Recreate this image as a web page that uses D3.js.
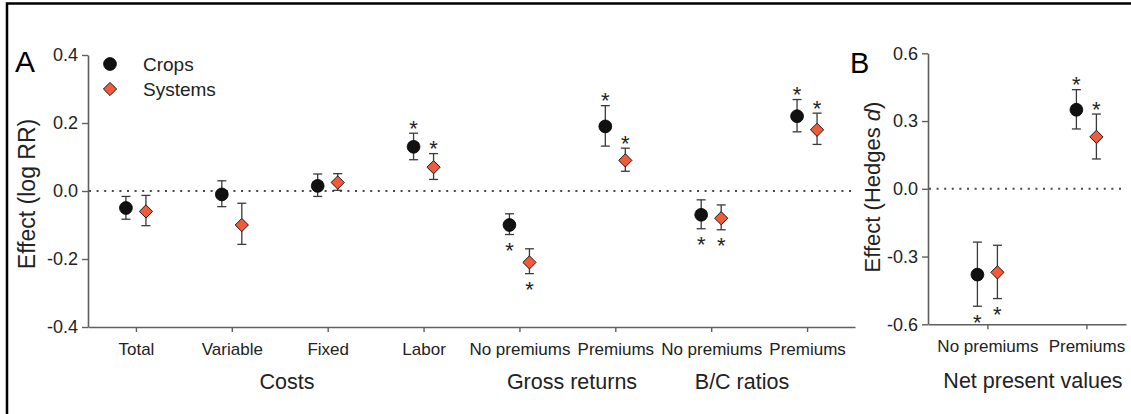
<!DOCTYPE html>
<html>
<head>
<meta charset="utf-8">
<script src="https://cdn.jsdelivr.net/npm/d3@7"></script>
<style>
  html, body { margin: 0; padding: 0; background: #fff; }
  svg { display: block; font-family: "Liberation Sans", Arial, Helvetica, sans-serif; }
</style>
</head>
<body>
<svg id="chart" width="1131" height="414"></svg>
<script>
// ---------- Panel A: effect as log response ratio ----------
const categoriesA = ["Total", "Variable", "Fixed", "Labor", "No premiums", "Premiums", "No premiums", "Premiums"];
const groupsA     = ["Costs", "Costs", "Costs", "Costs", "Gross returns", "Gross returns", "B/C ratios", "B/C ratios"];
const yTicksA     = [-0.4, -0.2, 0.0, 0.2, 0.4];

const cropsMeanA   = [-0.05, -0.01, 0.015, 0.13, -0.10, 0.19, -0.07, 0.22];
const cropsLowA    = [-0.083, -0.046, -0.016, 0.092, -0.128, 0.132, -0.111, 0.174];
const cropsHighA   = [-0.016, 0.030, 0.050, 0.170, -0.067, 0.251, -0.026, 0.269];
const cropsSigA    = [false, false, false, true, true, true, true, true];

const systemsMeanA = [-0.06, -0.10, 0.025, 0.07, -0.21, 0.09, -0.08, 0.18];
const systemsLowA  = [-0.102, -0.157, 0.002, 0.034, -0.243, 0.058, -0.114, 0.137];
const systemsHighA = [-0.013, -0.036, 0.051, 0.110, -0.170, 0.126, -0.041, 0.229];
const systemsSigA  = [false, false, false, true, true, true, true, true];

// ---------- Panel B: effect as Hedges' d ----------
const categoriesB = ["No premiums", "Premiums"];
const groupsB     = ["Net present values", "Net present values"];
const yTicksB     = [-0.6, -0.3, 0.0, 0.3, 0.6];

const cropsMeanB   = [-0.38, 0.35];
const cropsLowB    = [-0.52, 0.265];
const cropsHighB   = [-0.236, 0.439];
const cropsSigB    = [true, true];

const systemsMeanB = [-0.37, 0.23];
const systemsLowB  = [-0.486, 0.132];
const systemsHighB = [-0.25, 0.331];
const systemsSigB  = [true, true];

const seriesNames = ["Crops", "Systems"];

// ---------- styling ----------
const C = {
  crop: "#111111",
  system: "#F15A3A",
  outline: "#1a1a1a",
  axis: "#5f5f5f",
  err: "#3a3a3a",
  text: "#222222",
  zero: "#4a4a4a"
};

const svg = d3.select("#chart");

// outer frame (top and left edges)
svg.append("path")
  .attr("d", "M7,414 L7,3.5 L1131,3.5")
  .attr("fill", "none").attr("stroke", "#000").attr("stroke-width", 2.5);

const diamond = r => `M0,${-r} L${r},0 L0,${r} L${-r},0 Z`;

function drawPanel(cfg) {
  const g = svg.append("g");
  const keys = cfg.categories.map((c, i) => i + "|" + c);

  const x = d3.scalePoint().domain(keys)
    .range([cfg.left, cfg.right]).padding(0.5).align(cfg.align);
  const y = d3.scaleLinear().domain(cfg.yDomain).range([cfg.bottom, cfg.top]);

  // zero reference line
  g.append("line")
    .attr("x1", cfg.left + 1).attr("x2", cfg.right)
    .attr("y1", y(0)).attr("y2", y(0))
    .attr("stroke", C.zero).attr("stroke-width", 2)
    .attr("stroke-dasharray", "2 5.6");

  // y axis
  const yAxis = g.append("g").attr("transform", `translate(${cfg.left},0)`)
    .call(d3.axisLeft(y).tickValues(cfg.yTicks).tickSize(6).tickSizeOuter(0).tickPadding(4)
      .tickFormat(d => d.toFixed(1)));
  // x axis
  const xAxis = g.append("g").attr("transform", `translate(0,${cfg.bottom})`)
    .call(d3.axisBottom(x).tickSize(5).tickSizeOuter(0).tickPadding(11)
      .tickFormat(k => k.split("|")[1]));

  [yAxis, xAxis].forEach(a => {
    a.select(".domain").attr("stroke", C.axis).attr("stroke-width", 1.6);
    a.selectAll(".tick line").attr("stroke", C.axis).attr("stroke-width", 1.4);
    a.selectAll(".tick text").attr("fill", C.text)
      .style("font-family", "'Liberation Sans', Arial, sans-serif");
  });
  yAxis.selectAll(".tick text").style("font-size", "18px");
  xAxis.selectAll(".tick text").style("font-size", "17px");

  // group titles under the category labels
  const groupNames = Array.from(new Set(cfg.groups));
  groupNames.forEach((name, i) => {
    g.append("text")
      .attr("x", cfg.groupX[i]).attr("y", cfg.groupY)
      .attr("text-anchor", "middle").attr("fill", C.text)
      .style("font-size", "21.5px").text(name);
  });

  // y title
  const yt = g.append("text")
    .attr("transform", `translate(${cfg.yTitleX},${cfg.yTitleY}) rotate(-90)`)
    .attr("text-anchor", "middle").attr("fill", C.text)
    .style("font-size", cfg.yTitleSize + "px");
  cfg.yTitle.forEach(part => {
    yt.append("tspan").style("font-style", part.italic ? "italic" : "normal").text(part.t);
  });

  // panel letter
  g.append("text").attr("x", cfg.letterX).attr("y", cfg.letterY)
    .attr("fill", "#000").style("font-size", cfg.letterSize + "px").text(cfg.letter);

  // series
  const series = [
    { name: seriesNames[0], mean: cfg.cropsMean, low: cfg.cropsLow, high: cfg.cropsHigh, sig: cfg.cropsSig, dx: -10 },
    { name: seriesNames[1], mean: cfg.systemsMean, low: cfg.systemsLow, high: cfg.systemsHigh, sig: cfg.systemsSig, dx: 10 }
  ];

  series.forEach((s, si) => {
    const rows = keys.map((k, i) => ({ k, m: s.mean[i], lo: s.low[i], hi: s.high[i], sig: s.sig[i] }));
    const sg = g.append("g");
    const cx = d => x(d.k) + s.dx;

    // error bars
    const eb = sg.selectAll("g.err").data(rows).join("g").attr("class", "err")
      .attr("stroke", C.err).attr("stroke-width", 1.3);
    eb.append("line").attr("x1", cx).attr("x2", cx)
      .attr("y1", d => y(d.lo)).attr("y2", d => y(d.hi));
    eb.append("line").attr("x1", d => cx(d) - 4.5).attr("x2", d => cx(d) + 4.5)
      .attr("y1", d => y(d.lo)).attr("y2", d => y(d.lo));
    eb.append("line").attr("x1", d => cx(d) - 4.5).attr("x2", d => cx(d) + 4.5)
      .attr("y1", d => y(d.hi)).attr("y2", d => y(d.hi));

    // markers
    if (si === 0) {
      sg.selectAll("circle").data(rows).join("circle")
        .attr("cx", cx).attr("cy", d => y(d.m)).attr("r", 6.4)
        .attr("fill", C.crop).attr("stroke", "#000").attr("stroke-width", 0.8);
    } else {
      sg.selectAll("path.mk").data(rows).join("path").attr("class", "mk")
        .attr("transform", d => `translate(${cx(d)},${y(d.m)})`)
        .attr("d", diamond(6.6))
        .attr("fill", C.system).attr("stroke", C.outline).attr("stroke-width", 1);
    }

    // significance stars: above positive effects, below negative ones
    const fs = 22;
    sg.selectAll("text.sig").data(rows.filter(d => d.sig)).join("text").attr("class", "sig")
      .attr("x", cx)
      .attr("y", d => (d.m >= 0 ? y(d.hi) - 10 : y(d.lo) + 11) + 0.575 * fs)
      .attr("text-anchor", "middle").attr("fill", C.text)
      .style("font-size", fs + "px").text("*");
  });

  return { x, y };
}

drawPanel({
  categories: categoriesA, groups: groupsA, yTicks: yTicksA, yDomain: [-0.4, 0.4],
  left: 88, right: 855, top: 55, bottom: 327, align: 0.5,
  groupX: [287, 572, 742], groupY: 389,
  yTitle: [{ t: "Effect (log RR)" }], yTitleX: 35, yTitleY: 194, yTitleSize: 23,
  letter: "A", letterX: 15, letterY: 72, letterSize: 30,
  cropsMean: cropsMeanA, cropsLow: cropsLowA, cropsHigh: cropsHighA, cropsSig: cropsSigA,
  systemsMean: systemsMeanA, systemsLow: systemsLowA, systemsHigh: systemsHighA, systemsSig: systemsSigA
});

drawPanel({
  categories: categoriesB, groups: groupsB, yTicks: yTicksB, yDomain: [-0.6, 0.6],
  left: 928, right: 1126, top: 53.3, bottom: 324.3, align: 0.6,
  groupX: [1033], groupY: 388,
  yTitle: [{ t: "Effect (Hedges " }, { t: "d", italic: true }, { t: ")" }], yTitleX: 880, yTitleY: 187, yTitleSize: 22,
  letter: "B", letterX: 850, letterY: 73, letterSize: 29,
  cropsMean: cropsMeanB, cropsLow: cropsLowB, cropsHigh: cropsHighB, cropsSig: cropsSigB,
  systemsMean: systemsMeanB, systemsLow: systemsLowB, systemsHigh: systemsHighB, systemsSig: systemsSigB
});

// legend
const legend = svg.append("g");
seriesNames.forEach((name, i) => {
  const ly = 64 + i * 25;
  if (i === 0) {
    legend.append("circle").attr("cx", 110).attr("cy", ly).attr("r", 6.4)
      .attr("fill", C.crop).attr("stroke", "#000").attr("stroke-width", 0.8);
  } else {
    legend.append("path").attr("transform", `translate(110,${ly})`).attr("d", diamond(6.6))
      .attr("fill", C.system).attr("stroke", C.outline).attr("stroke-width", 1);
  }
  legend.append("text").attr("x", 143).attr("y", ly + 6.5)
    .attr("fill", C.text).style("font-size", "19px").text(name);
});
</script>
</body>
</html>
